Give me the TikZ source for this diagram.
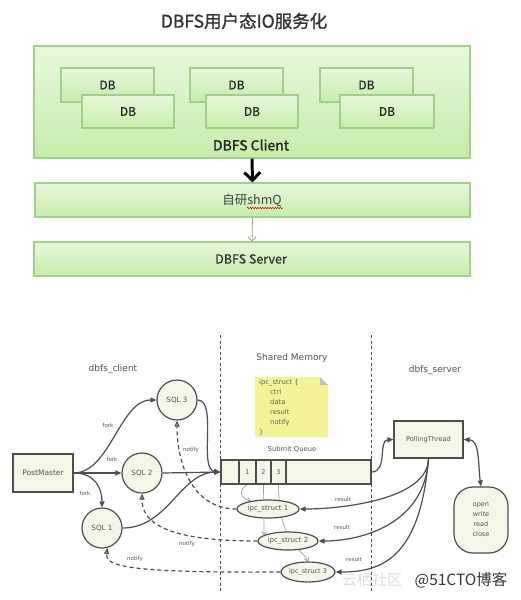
\documentclass[tikz,border=0pt]{standalone}
\usepackage{fontspec}
\setmainfont{DejaVu Sans}
\newfontfamily\cjk{Noto Sans CJK SC}
\newfontfamily\cjkb{Noto Sans CJK SC}[FakeBold=1.2]
\usetikzlibrary{arrows.meta,shapes.geometric,decorations.pathmorphing,backgrounds}
\definecolor{gborder}{HTML}{A2CF8A}
\definecolor{gtop}{HTML}{E6F8DA}
\definecolor{gbot}{HTML}{C6EDAC}
\definecolor{ln}{HTML}{4E4E4E}
\definecolor{txt}{HTML}{555555}
\definecolor{cream}{HTML}{F5F5E8}
\definecolor{noteY}{HTML}{F5F39A}
\definecolor{noteT}{HTML}{5F6A3E}
\definecolor{thinc}{HTML}{A0A0A0}
\definecolor{arrg}{HTML}{A0A890}
\newcommand{\myfs}[1]{\fontsize{#1}{#1}\selectfont}
\begin{document}
\begin{tikzpicture}[x=1pt,y=-1pt,
  gbox/.style={rectangle, draw=gborder, line width=1.1pt, top color=gtop, bottom color=gbot, inner sep=0pt},
  dbbox/.style={gbox, minimum width=93pt, minimum height=34pt, font=\cjkb\myfs{12}, text=black!85},
  pbox/.style={rectangle, draw=ln, line width=1.2pt, fill=cream, inner sep=0pt, text=txt},
  sqlc/.style={circle, draw=ln, line width=1.2pt, fill=cream, minimum size=40pt, inner sep=0pt, font=\myfs{7.2}, text=txt},
  ipcs/.style={ellipse, draw=ln, line width=1.2pt, fill=cream, inner sep=0pt, font=\myfs{7}, text=txt},
  cellbox/.style={rectangle, draw=ln, line width=1.2pt, fill=cream, minimum height=24pt, inner sep=0pt, font=\myfs{6.5}, text=txt},
  lbl/.style={font=\myfs{9}, text=txt},
  small/.style={font=\myfs{5.5}, text=txt},
  arr/.style={draw=ln, line width=1.2pt, -{Triangle[length=6pt,width=5pt]}},
  darr/.style={draw=ln, line width=1.2pt, {Triangle[length=6pt,width=5pt]}-{Triangle[length=6pt,width=5pt]}},
  ntf/.style={draw=ln, line width=1.2pt, dash pattern=on 4pt off 3pt, -{Triangle[open,length=6pt,width=5pt]}},
  lnk/.style={draw=thinc, line width=0.7pt, -{Straight Barb[length=3pt,width=5pt]}},
  sepline/.style={draw=ln, line width=1pt, dash pattern=on 3pt off 2.5pt}]
\useasboundingbox (0,0) rectangle (520,600);
\begin{pgfonlayer}{background}
\fill[white] (0,0) rectangle (520,600);
\end{pgfonlayer}

% ---------- top part ----------
\node[font=\cjkb\myfs{17.5}, text=black!80] (title) at (244,21) {DBFS用户态IO服务化};
\node[gbox, minimum width=436pt, minimum height=112pt] (client) at (252,102) {};
\node[dbbox] (db1a) at (107.5,85) {DB};
\node[dbbox, minimum width=92pt, minimum height=33pt] (db1b) at (128,111.5) {DB};
\node[dbbox] (db2a) at (236.5,85) {DB};
\node[dbbox, minimum width=92pt, minimum height=33pt] (db2b) at (252,111.5) {DB};
\node[dbbox] (db3a) at (366.5,85) {DB};
\node[dbbox, minimum width=94pt, minimum height=33pt] (db3b) at (387,111.5) {DB};
\node[font=\cjkb\myfs{14}, text=black!85] (clientlbl) at (251,145) {DBFS Client};
\node[gbox, minimum width=435pt, minimum height=34pt] (shm) at (252.5,200) {};
\node[font=\cjk\myfs{12.5}, text=black!75] (shmlbl) at (252,200) {自研shmQ};
\draw[red!80!black, line width=0.5pt, decorate, decoration={snake, amplitude=0.7pt, segment length=2.5pt}] (247,208) -- (283,208);
\node[gbox, minimum width=436pt, minimum height=34pt] (server) at (252,259) {};
\node[font=\cjkb\myfs{12.5}, text=black!80] (serverlbl) at (251,259) {DBFS Server};
\draw[black, line width=3pt, -{Straight Barb[length=8pt,width=16pt]}] (client.south) -- (shm.north);
\draw[arrg, line width=0.8pt, -{Straight Barb[length=4pt,width=8pt]}] (shm.south) -- (server.north);

% ---------- bottom part ----------
\draw[sepline] (220,335) -- (220,592);
\draw[sepline] (371,335) -- (371,592);
\node[lbl] (lclient) at (113,369) {dbfs\_client};
\node[lbl] (lshared) at (292,358) {Shared Memory};
\node[lbl] (lserver) at (435,370) {dbfs\_server};

% note
\fill[noteY] (255,377) -- (320,377) -- (328,385) -- (328,437) -- (255,437) -- cycle;
\fill[black!25] (320,377) -- (320,385) -- (328,385) -- cycle;
\node[anchor=north west, align=left, font=\fontsize{6.8}{10}\selectfont, text=noteT, inner sep=0pt] (note) at (259,379)
  {ipc\_struct \{\\\hspace*{11pt}ctrl\\\hspace*{11pt}data\\\hspace*{11pt}result\\\hspace*{11pt}notify\\\}};

\node[pbox, minimum width=60pt, minimum height=38pt, font=\myfs{7.5}] (pm) at (43,473) {PostMaster};
\node[sqlc] (sql3) at (177,400) {SQL 3};
\node[sqlc] (sql2) at (142,473) {SQL 2};
\node[sqlc] (sql1) at (102,528) {SQL 1};

\node[font=\myfs{6.8}, text=txt] (sq) at (292,449) {Submit Queue};
\node[pbox, minimum width=150pt, minimum height=24pt] (q) at (296,472) {};
\node[cellbox, minimum width=17pt] (c1) at (247.5,472) {1};
\node[cellbox, minimum width=15pt] (c2) at (263.5,472) {2};
\node[cellbox, minimum width=15pt] (c3) at (278.5,472) {3};

\node[pbox, minimum width=69pt, minimum height=37pt, font=\myfs{6.6}] (pt) at (428.5,439.5) {PollingThread};
\node[pbox, minimum width=54pt, minimum height=66pt, rounded corners=19pt, align=center, font=\fontsize{6.5}{10}\selectfont] (op) at (481,520) {open\\write\\read\\close};

\node[ipcs, minimum width=62pt, minimum height=18pt] (ipc1) at (268,509) {ipc\_struct 1};
\node[ipcs, minimum width=60pt, minimum height=18pt] (ipc2) at (288,541) {ipc\_struct 2};
\node[ipcs, minimum width=54pt, minimum height=20pt, font=\myfs{6.5}] (ipc3) at (308,572) {ipc\_struct 3};

\begin{pgfonlayer}{background}
\draw[lnk] (c1.south) .. controls (238,490) and (240,498) .. (ipc1.155);
\draw[lnk] (c2.south) -- (ipc2.166);
\draw[lnk] (c3.south) .. controls (279,545) and (302,548) .. (ipc3.north);
\end{pgfonlayer}

% fork arrows
\draw[arr] (pm.east) .. controls (110,473) and (120,400) .. (sql3.west);
\draw[arr] (pm.east) -- (sql2.west);
\draw[arr] (pm.east) .. controls (95,473) and (102,488) .. (sql1.north);
\node[small] (f1) at (108,425) {fork};
\node[small] (f2) at (112,459) {fork};
\node[small] (f3) at (85,493) {fork};

% into queue
\draw[arr] (sql3.east) .. controls (218,400) and (198,470) .. (q.west);
\draw[arr] (sql2.east) -- (q.west);
\draw[arr] (sql1.east) .. controls (168,528) and (180,473) .. (q.west);

% notify
\draw[ntf] (ipc1.west) .. controls (195,509) and (177,468) .. (sql3.south);
\draw[ntf] (ipc2.west) .. controls (160,541) and (142,520) .. (sql2.south);
\draw[ntf] (ipc3.west) .. controls (125,573) and (105,566) .. (sql1.-75);
\node[small] (n1) at (191,450) {notify};
\node[small] (n2) at (187,544) {notify};
\node[small] (n3) at (135,559) {notify};

% queue to polling thread and ops
\draw[arr] (q.east) .. controls (388,472) and (378,440) .. (pt.west);
\draw[darr] (pt.east) .. controls (480,440) and (478,465) .. (op.north);

% results
\draw[arr] (pt.south) .. controls (428,500) and (340,509) .. (ipc1.east);
\draw[arr] (pt.south) .. controls (425,525) and (360,541) .. (ipc2.east);
\draw[arr] (pt.south) .. controls (420,560) and (380,572) .. (ipc3.east);
\node[small] (r1) at (343,499) {result};
\node[small] (r2) at (342,527) {result};
\node[small] (r3) at (354,559) {result};

% watermark
\node[font=\cjk\myfs{15}, text=black!12] (wm1) at (372,580) {云栖社区};
\node[font=\cjk\myfs{15.5}, text=black!78] (wm2) at (461,580) {@51CTO博客};
\end{tikzpicture}
\end{document}
